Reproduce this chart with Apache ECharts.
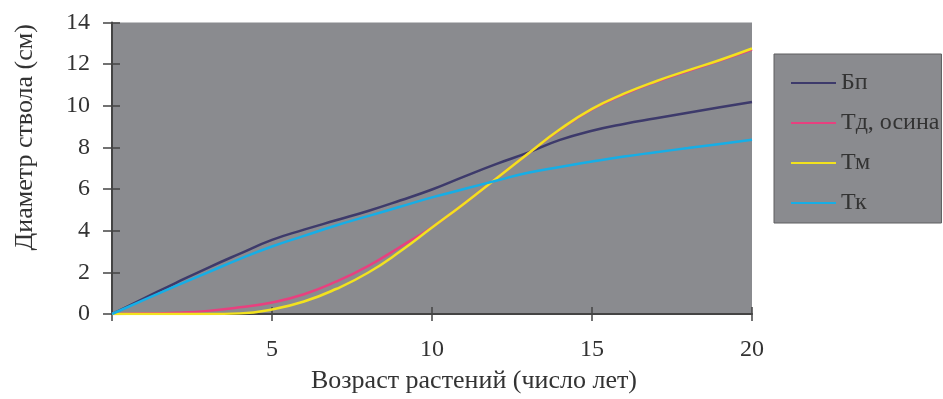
<!DOCTYPE html>
<html>
<head>
<meta charset="utf-8">
<script src="https://cdn.jsdelivr.net/npm/echarts@6/dist/echarts.min.js"></script>
<style>
  html, body { margin: 0; padding: 0; background: #fff; }
  #chart { width: 943px; height: 399px; }
</style>
</head>
<body>
<div id="chart"></div>
<script>
// годы 0..20
const years = [0, 1, 2, 3, 4, 5, 6, 7, 8, 9, 10, 11, 12, 13, 14, 15, 16, 17, 18, 19, 20];
const seriesNames = ['Бп', 'Тд, осина', 'Тм', 'Тк'];

const bp  = [0, 0.75, 1.5, 2.22, 2.9, 3.56, 4.05, 4.5, 4.95, 5.45, 5.98, 6.6, 7.2, 7.75, 8.36, 8.8, 9.13, 9.4, 9.67, 9.93, 10.18];
const td  = [0, 0.02, 0.06, 0.15, 0.32, 0.55, 0.95, 1.55, 2.3, 3.22, 4.17, 5.3, 6.5, 7.7, 8.85, 9.83, 10.55, 11.15, 11.67, 12.17, 12.7];
const tm  = [0, 0, 0, 0, 0.03, 0.22, 0.6, 1.2, 1.98, 3.0, 4.15, 5.3, 6.5, 7.7, 8.87, 9.85, 10.58, 11.18, 11.7, 12.2, 12.75];
const tk  = [0, 0.68, 1.35, 2.0, 2.65, 3.24, 3.75, 4.25, 4.7, 5.15, 5.6, 6.0, 6.4, 6.78, 7.06, 7.32, 7.56, 7.77, 7.97, 8.17, 8.37];

const colors = ['#3d3a6b', '#e8407f', '#f2e21e', '#16aee6'];
const font = 'Liberation Serif';

const chart = echarts.init(document.getElementById('chart'));

function pairs(vals) {
  return years.map((y, i) => [y, vals[i]]);
}

const tickStyle = { color: '#444', width: 1.5 };

const option = {
  animation: false,
  textStyle: { fontFamily: font },
  grid: {
    left: 112, right: 191, top: 22.5, bottom: 80.5,
    show: true, backgroundColor: '#8a8b8f', borderWidth: 0
  },
  legend: {
    orient: 'vertical',
    left: 774, top: 54,
    padding: [17, 2, 8, 16],
    itemWidth: 45, itemHeight: 20, itemGap: 16,
    backgroundColor: '#8a8b8f',
    borderColor: '#5e5e60', borderWidth: 1,
    itemStyle: { opacity: 0 },
    textStyle: { fontFamily: font, fontSize: 24, color: '#333' },
    data: seriesNames
  },
  xAxis: [{
    type: 'value', min: 0, max: 20, interval: 5,
    name: 'Возраст растений (число лет)',
    nameLocation: 'middle', nameGap: 54,
    nameTextStyle: { fontFamily: font, fontSize: 26, color: '#333', padding: [0, 0, 0, 84] },
    axisLine: { show: true, lineStyle: { color: '#444', width: 2 } },
    axisTick: { show: true, length: 7, lineStyle: tickStyle },
    axisLabel: {
      fontFamily: font, fontSize: 24, color: '#333', margin: 24,
      formatter: v => (v === 0 ? '' : String(v))
    },
    splitLine: { show: false }
  }, {
    type: 'value', min: 0, max: 20, interval: 5, position: 'bottom',
    axisLine: { show: false },
    axisTick: { show: true, inside: true, length: 7, lineStyle: tickStyle },
    axisLabel: { show: false },
    splitLine: { show: false }
  }],
  yAxis: [{
    type: 'value', min: 0, max: 14, interval: 2,
    name: 'Диаметр ствола (см)',
    nameLocation: 'middle', nameGap: 74,
    nameTextStyle: { fontFamily: font, fontSize: 26, color: '#333', padding: [0, 0, 0, 62] },
    axisLine: { show: true, lineStyle: { color: '#444', width: 2 } },
    axisTick: { show: true, length: 9, lineStyle: tickStyle },
    axisLabel: { fontFamily: font, fontSize: 24, color: '#333', margin: 22 },
    splitLine: { show: false }
  }, {
    type: 'value', min: 0, max: 14, interval: 2, position: 'left',
    axisLine: { show: false },
    axisTick: { show: true, inside: true, length: 8, lineStyle: tickStyle },
    axisLabel: { show: false },
    splitLine: { show: false }
  }],
  series: [bp, td, tm, tk].map((vals, i) => ({
    name: seriesNames[i],
    type: 'line',
    data: pairs(vals),
    smooth: 0.5,
    symbol: 'none',
    lineStyle: { color: colors[i], width: 2.5 },
    itemStyle: { color: colors[i] }
  }))
};

chart.setOption(option);
</script>
</body>
</html>
